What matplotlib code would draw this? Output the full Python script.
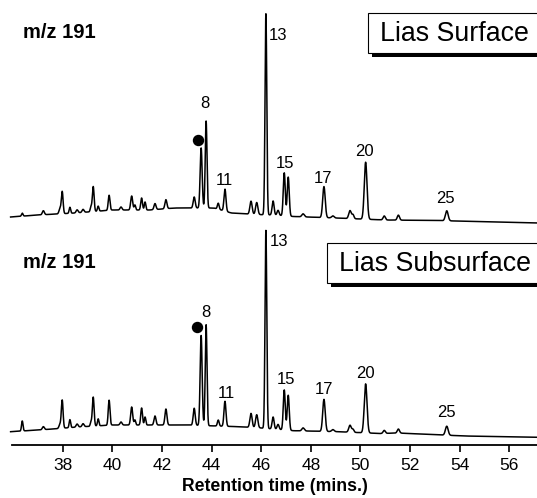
import numpy as np
import matplotlib
matplotlib.use("Agg")
import matplotlib.pyplot as plt
from matplotlib.patches import Rectangle

plt.rcParams['font.family'] = ['Liberation Sans', 'DejaVu Sans']

# ---------------- data ----------------
# retention times (min) of the resolved peaks
peak_rt = [36.37, 37.22, 37.89, 37.98, 38.29, 38.58, 38.82, 39.14, 39.23, 39.43,
           39.87, 40.35, 40.78, 40.91, 41.18, 41.32, 41.72, 42.16, 43.30, 43.58,
           43.78, 44.27, 44.54, 45.59, 45.82, 46.19, 46.48, 46.68, 46.93, 47.09,
           47.69, 48.53, 48.89, 49.58, 49.70, 50.21, 50.96, 51.53, 53.48]
# peak widths (sigma, min)
peak_width = [0.03, 0.04, 0.04, 0.035, 0.03, 0.04, 0.04, 0.03, 0.035, 0.03,
              0.035, 0.04, 0.04, 0.03, 0.035, 0.03, 0.04, 0.04, 0.04, 0.04,
              0.035, 0.035, 0.04, 0.045, 0.045, 0.035, 0.04, 0.04, 0.04, 0.04,
              0.05, 0.05, 0.05, 0.05, 0.04, 0.055, 0.045, 0.045, 0.055]
# peak heights above baseline (arbitrary abundance units)
surface_height = [3, 4, 5, 22, 6, 3, 3, 5, 25, 5,
                  15, 3, 14, 5, 12, 8, 6, 9, 11, 60,
                  87, 6, 22, 13, 12, 201, 14, 5, 43, 39,
                  3, 31, 2, 8, 4, 57, 4, 5, 10]
subsurface_height = [10, 3, 4, 28, 8, 3, 3, 4, 29, 7,
                     25, 3, 18, 5, 17, 8, 9, 16, 17, 90,
                     101, 6, 25, 14, 13, 198, 12, 5, 40, 35,
                     3, 32, 2, 7, 3, 49, 3, 4, 9]
# baseline drift
surface_base_rt = [35.9, 37.0, 38.5, 40.0, 41.5, 42.5, 44.1, 44.8, 45.8, 46.5, 47.3, 49.0, 51.0, 53.0, 57.2]
surface_base = [6, 8, 10, 13, 13, 15, 15, 10, 8.5, 8, 6.5, 5, 3, 2.5, 0]
subsurface_base_rt = [35.9, 37.0, 37.6, 38.6, 40.0, 41.3, 43.0, 44.2, 45.1, 46.0, 47.3, 49.1, 50.8, 51.5, 54.2, 57.2]
subsurface_base = [6.3, 8, 9, 11, 13, 13, 13, 12, 11.3, 10, 7.3, 6.3, 4.5, 5, 2, 0.7]

# labelled compounds
label_names = ["8", "11", "13", "15", "17", "20", "25"]
label_rt = [43.78, 44.54, 46.19, 46.93, 48.53, 50.21, 53.48]
dot_rt = 43.58  # peak marked with a filled circle

xticks = [38, 40, 42, 44, 46, 48, 50, 52, 54, 56]
panel_titles = ["Lias Surface", "Lias Subsurface"]
ion_label = "m/z 191"
xlabel = "Retention time (mins.)"

# ---------------- drawing ----------------
W, H = 537, 498
fig = plt.figure(figsize=(W / 100, H / 100), dpi=100)


def fx(px):
    return px / W


def fy(py):
    return 1 - py / H


t = np.linspace(35.9, 57.2, 6000)


def trace(heights, brt, bval):
    y = np.interp(t, brt, bval)
    for rt, h, w in zip(peak_rt, heights, peak_width):
        y = y + h * np.exp(-0.5 * ((t - rt) / w) ** 2)
    return y


xlim = (35.956, 57.117)

# axes: top panel occupies px 10..226, bottom px 229..445
ax1 = fig.add_axes([fx(12), fy(226), fx(525), (226 - 10) / H])
ax2 = fig.add_axes([fx(12), fy(445), fx(525), (445 - 229) / H])

panels = [
    (ax1, surface_height, surface_base_rt, surface_base, (-3, 213)),
    (ax2, subsurface_height, subsurface_base_rt, subsurface_base, (-7, 209)),
]

label_offsets = [
    {"8": (-1, 10), "11": (-1, 1), "13": (3, -14), "15": (1, 2), "17": (-1, 1), "20": (-1, 3), "25": (-1, 5)},
    {"8": (0, 5), "11": (1, 0), "13": (4, -4), "15": (2, 3), "17": (0, 2), "20": (0, 3), "25": (0, 6)},
]
dot_offsets = [(-0.11, 8), (-0.16, 8.3)]

for i, (ax, heights, brt, bval, ylim) in enumerate(panels):
    y = trace(heights, brt, bval)
    ax.plot(t, y, color='black', lw=1.1, clip_on=False)
    ax.set_xlim(*xlim)
    ax.set_ylim(*ylim)
    for name, rt in zip(label_names, label_rt):
        apex = np.interp(rt, t, y)
        dx, dy = label_offsets[i][name]
        if name == "13":
            ax.annotate(name, (rt, apex), xytext=(dx, dy), textcoords='offset pixels',
                        ha='left', va='top', fontsize=12)
        else:
            ax.annotate(name, (rt, apex), xytext=(dx, dy), textcoords='offset pixels',
                        ha='center', va='bottom', fontsize=12)
    dapex = np.interp(dot_rt, t, y)
    ax.plot([dot_rt + dot_offsets[i][0]], [dapex + dot_offsets[i][1]], 'o', color='black',
            markersize=7.2, clip_on=False)
    ax.set_yticks([])
    for s in ['top', 'right', 'left']:
        ax.spines[s].set_visible(False)

ax1.spines['bottom'].set_visible(False)
ax1.set_xticks([])
ax2.spines['bottom'].set_linewidth(1.3)
ax2.set_xticks(xticks)
ax2.set_xticklabels([str(v) for v in xticks], fontsize=12.5)
ax2.tick_params(axis='x', direction='out', length=5, width=1.2, pad=4)
ax2.set_xlabel(xlabel, fontsize=12.7, fontweight='bold', labelpad=4)

# ion labels
fig.text(fx(23), fy(32), ion_label, fontsize=14.5, fontweight='bold', ha='left', va='center')
fig.text(fx(23), fy(262), ion_label, fontsize=14.5, fontweight='bold', ha='left', va='center')

# titled boxes with drop shadows
boxes = [(368, 13, 53, panel_titles[0]), (327, 243, 283, panel_titles[1])]
for left, top, bottom, title in boxes:
    sh = Rectangle((fx(left + 4), fy(bottom + 4)), fx(600 - left), (bottom - top) / H,
                   transform=fig.transFigure, facecolor='black', edgecolor='none', zorder=5)
    bx = Rectangle((fx(left), fy(bottom)), fx(600 - left), (bottom - top) / H,
                   transform=fig.transFigure, facecolor='white', edgecolor='black', lw=0.8, zorder=6)
    fig.patches.extend([sh, bx])
    fig.text(fx(left + 12), fy((top + bottom) / 2 + 1), title, fontsize=19.3, ha='left', va='center',
             zorder=7)

fig.savefig("out.png", dpi=100)
